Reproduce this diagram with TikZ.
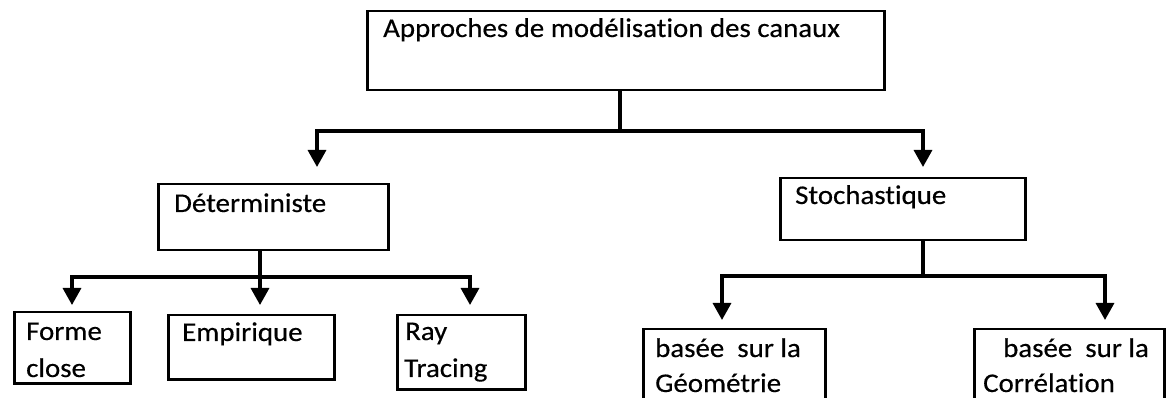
\documentclass[tikz,border=0pt]{standalone}
\usepackage{fontspec}
\setmainfont{Carlito}[FakeStretch=1.07, FakeBold=0.4, Ligatures={NoCommon}]
\usetikzlibrary{arrows.meta}

\begin{document}
\begin{tikzpicture}[x=1pt, y=-1pt,
  box/.style={draw, line width=2.5pt, rectangle, inner sep=0pt, anchor=north west},
  txt/.style={anchor=base west, inner sep=0pt, font=\fontsize{27}{31}\selectfont},
  arrowlink/.style={line width=3.3pt, -{Triangle[width=18pt, length=17pt]}}]

  % page frame
  \useasboundingbox (0,0) rectangle (1171,398);
  \clip (0,0) rectangle (1171,398);

  % boxes
  \node[box, minimum width=517pt, minimum height=79pt] (top) at (366,10) {};
  \node[box, minimum width=230pt, minimum height=66pt] (det) at (157,183) {};
  \node[box, minimum width=245pt, minimum height=62pt] (sto) at (779,177) {};
  \node[box, minimum width=116pt, minimum height=71pt] (forme) at (13,311) {};
  \node[box, minimum width=166pt, minimum height=64pt] (emp) at (167,314) {};
  \node[box, minimum width=128pt, minimum height=74pt] (ray) at (396,314) {};
  \node[box, minimum width=182pt, minimum height=100pt] (geo) at (642,328) {};
  \node[box, minimum width=190pt, minimum height=100pt] (cor) at (973,328) {};

  % labels
  \node[txt] (ttop) at (383,37) {Approches de modélisation des canaux};
  \node[txt] (tdet) at (174,212) {Déterministe};
  \node[txt] (tsto) at (795,204) {Stochastique};
  \node[txt] (tforme1) at (26,340) {Forme};
  \node[txt] (tforme2) at (26,377) {close};
  \node[txt] (temp) at (182,341) {Empirique};
  \node[txt] (tray1) at (405,340) {Ray};
  \node[txt] (tray2) at (404,377) {Tracing};
  \node[txt] (tgeo1) at (655,357) {basée\ \ sur la};
  \node[txt] (tgeo2) at (655,392) {Géométrie};
  \node[txt] (tcor1) at (1003,357) {basée\ \ sur la};
  \node[txt] (tcor2) at (983,392) {Corrélation};

  % junctions and arrow tips
  \coordinate (j1) at (620,131);
  \coordinate (tipdet) at (317,167);
  \coordinate (tipsto) at (923,167);
  \coordinate (j2) at (260,277);
  \coordinate (tipforme) at (72,305);
  \coordinate (tipemp) at (260,305);
  \coordinate (tipray) at (470,305);
  \coordinate (j3) at (923,276);
  \coordinate (tipgeo) at (722,320);
  \coordinate (tipcor) at (1105,320);

  % connectors
  \draw[arrowlink] (top.south -| j1) -- (j1) -| (tipdet);
  \draw[arrowlink] (top.south -| j1) -- (j1) -| (tipsto);

  \draw[arrowlink] (det.south -| j2) -- (j2) -| (tipforme);
  \draw[arrowlink] (det.south -| j2) -- (tipemp);
  \draw[arrowlink] (det.south -| j2) -- (j2) -| (tipray);

  \draw[arrowlink] (sto.south -| j3) -- (j3) -| (tipgeo);
  \draw[arrowlink] (sto.south -| j3) -- (j3) -| (tipcor);
\end{tikzpicture}
\end{document}
